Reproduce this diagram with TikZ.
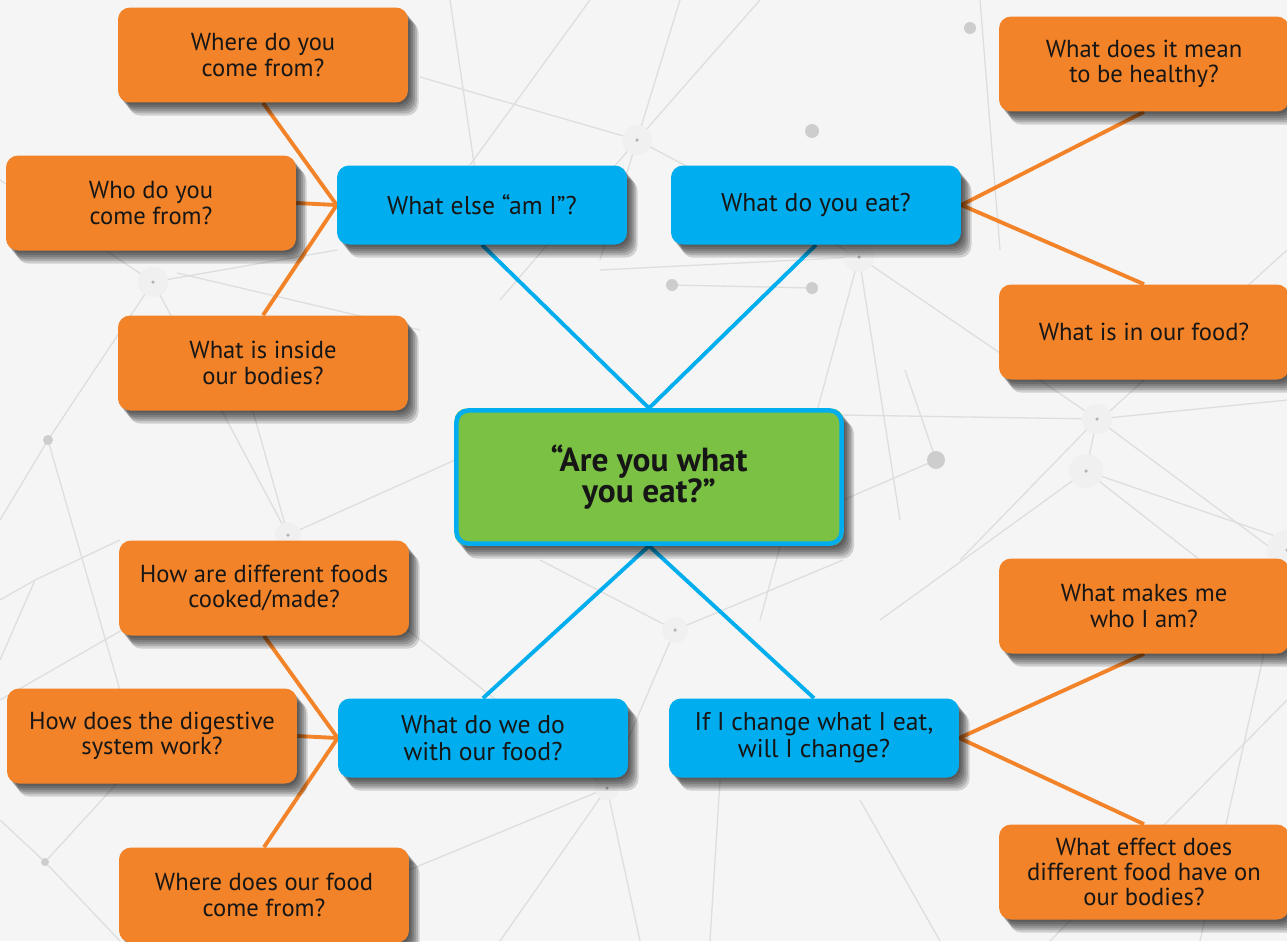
\documentclass[tikz,border=0pt]{standalone}
\usepackage{fontspec}
\setmainfont{PT Sans}
\definecolor{PageGrey}{HTML}{F5F5F5}
\definecolor{NetGrey}{HTML}{DEDEDE}
\definecolor{DotGrey}{HTML}{CDCDCD}
\definecolor{QOrange}{HTML}{F38328}
\definecolor{QBlue}{HTML}{00AEEF}
\definecolor{QGreen}{HTML}{7BC143}
\definecolor{Ink}{HTML}{161616}
\pgfdeclarelayer{links}
\pgfsetlayers{links,main}

\begin{document}
\begin{tikzpicture}[x=0.02cm,y=-0.02cm,
      % stacked offset copies give a soft drop shadow
      softshade/.style={preaction={fill=black,opacity=.15,
                        transform canvas={xshift=#1,yshift=-1.25*#1}}},
      box/.style={rounded corners=0.24cm,align=center,inner sep=2pt,text=Ink,
                  softshade=1pt,softshade=2pt,softshade=3pt,softshade=4pt,
                  softshade=5pt,softshade=6pt},
      topic/.style={box,fill=QBlue,minimum width=5.8cm,minimum height=1.58cm,
                    font=\fontsize{14.6}{15.5}\selectfont},
      question/.style={box,fill=QOrange,minimum width=5.8cm,minimum height=1.9cm,
                       font=\fontsize{14}{14.4}\selectfont},
      hub/.style={box,fill=QGreen,minimum width=7.78cm,minimum height=2.74cm,
                  font=\fontsize{19}{17.5}\selectfont\bfseries},
      rim/.style={QBlue,line width=0.09cm,rounded corners=0.24cm},
      spoke/.style={QBlue,line width=2.2pt},
      twig/.style={QOrange,line width=2.2pt},
      net/.style={NetGrey,line width=0.75pt}]
    \useasboundingbox (0,0) rectangle (1287,941);

    % faint network behind everything
    \begin{pgfonlayer}{links}
      \fill[PageGrey] (0,0) rectangle (1287,941);
      \foreach \xa/\ya/\xb/\yb in {
          420/77/637/140, 637/140/680/0, 637/140/760/0, 637/140/859/257,
          637/140/500/300, 450/0/475/170, 590/0/470/165, 637/140/600/260,
          0/180/153/282, 153/282/337/250, 153/282/48/440, 153/282/288/535,
          177/273/420/330, 48/440/0/520, 48/440/140/760, 288/535/455/460,
          288/535/230/330, 288/535/0/700, 288/535/607/788, 672/285/812/288,
          600/270/859/257, 859/257/1097/419, 859/257/760/620, 859/257/900/520,
          936/460/843/500, 936/460/905/370, 840/415/1097/419, 1097/419/1086/471,
          1097/419/1287/560, 1086/471/1287/540, 1086/471/880/620,
          1097/419/960/560, 1086/471/1200/560, 1097/419/1287/400,
          675/630/607/788, 607/788/409/870, 607/788/640/941, 607/788/500/941,
          720/780/710/941, 45/862/0/820, 45/862/120/941, 45/862/120/780,
          0/600/35/580, 35/580/120/540, 1287/550/1200/941, 860/800/940/941,
          1287/700/1050/941, 980/0/1000/250, 1287/250/1100/420,
          675/630/843/560, 675/630/540/560, 35/580/0/660}{%
        \draw[net] (\xa,\ya) -- (\xb,\yb);
      }
      \foreach \x/\y/\rad in {637/140/15, 859/257/15, 1097/419/15, 1086/471/17,
          153/282/15, 288/535/13, 1287/550/20, 675/630/13, 607/788/12}{%
        \fill[gray!12] (\x,\y) circle[radius=\rad*0.02cm];
        \fill[gray!60] (\x,\y) circle[radius=1pt];
      }
      \foreach \x/\y/\rad in {970/28/6, 812/131/7, 672/285/6, 812/288/6,
          936/460/9, 48/440/5, 45/862/4}{%
        \fill[DotGrey] (\x,\y) circle[radius=\rad*0.02cm];
      }
    \end{pgfonlayer}

    % centre question
    \node[hub] (core) at (649,477) {“Are you what\\you eat?”};
    \draw[rim] ([shift={(0.045cm,0.045cm)}]core.south west)
      rectangle ([shift={(-0.045cm,-0.045cm)}]core.north east);

    % the four sub-topics
    \node[topic] (else)   at (482,205) {What else “am I”?};
    \node[topic] (eat)    at (816,205) {What do you eat?};
    \node[topic] (use)    at (483,738) {What do we do\\with our food?};
    \node[topic] (change) at (814,738) {If I change what I eat,\\will I change?};

    % questions round each sub-topic
    \node[question] (origin)  at (263,55)  {Where do you\\come from?};
    \node[question] (family)  at (151,203) {Who do you\\come from?};
    \node[question] (inside)  at (263,363) {What is inside\\our bodies?};
    \node[question] (healthy) at (1144,64)  {What does it mean\\to be healthy?};
    \node[question] (content) at (1144,332) {What is in our food?};
    \node[question] (cooked)  at (264,588) {How are different foods\\cooked/made?};
    \node[question] (digest)  at (152,736) {How does the digestive\\system work?};
    \node[question] (source)  at (264,895) {Where does our food\\come from?};
    \node[question] (self)    at (1144,606) {What makes me\\who I am?};
    \node[question] (effect)  at (1144,872) {What effect does\\different food have on\\our bodies?};

    \begin{pgfonlayer}{links}
      \foreach \t in {else,eat}{%
        \draw[spoke] (\t.south) -- (core.north);
      }
      \foreach \t in {use,change}{%
        \draw[spoke] (\t.north) -- (core.south);
      }
      \draw[twig] (else.west) -- (origin.south);
      \draw[twig] (else.west) -- (family.east);
      \draw[twig] (else.west) -- (inside.north);
      \draw[twig] (eat.east) -- (healthy.south);
      \draw[twig] (eat.east) -- (content.north);
      \draw[twig] (use.west) -- (cooked.south);
      \draw[twig] (use.west) -- (digest.east);
      \draw[twig] (use.west) -- (source.north);
      \draw[twig] (change.east) -- (self.south);
      \draw[twig] (change.east) -- (effect.north);
    \end{pgfonlayer}
  \end{tikzpicture}
\end{document}
